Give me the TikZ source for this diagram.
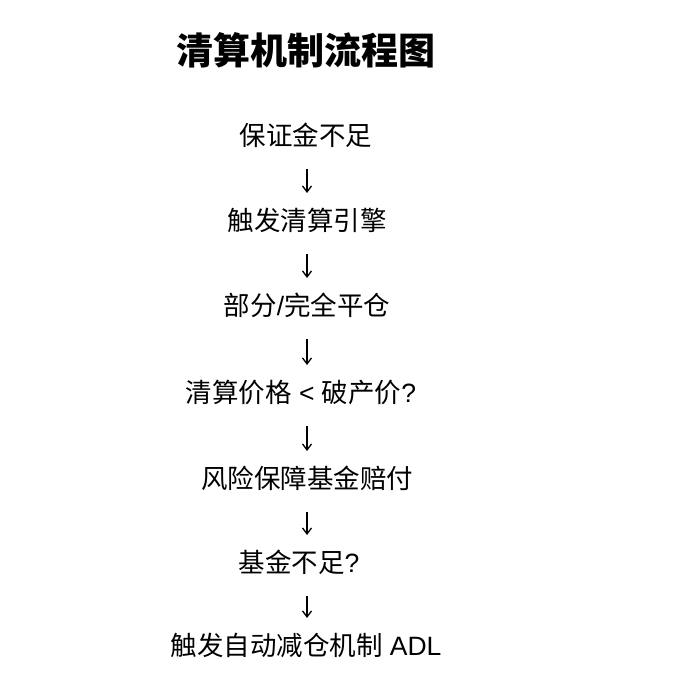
\documentclass[tikz,border=0pt]{standalone}
\usepackage{fontspec}
\setmainfont{Noto Sans CJK SC}
\newfontfamily\latf{Liberation Sans}
\newcommand{\lt}[1]{{\latf #1}}
\usetikzlibrary{arrows.meta}
\tikzset{
  stepnode/.style={inner sep=0pt, font=\fontsize{26.5}{30}\selectfont},
  titlenode/.style={inner sep=0pt, font=\fontsize{37}{42}\selectfont\bfseries},
  flowarrow/.style={line width=1.3pt, -{Straight Barb[length=6pt,width=9pt,line width=1.3pt]}, shorten <=34pt, shorten >=27pt}
}
\begin{document}
\begin{tikzpicture}[x=1pt,y=1pt]
\fill[white] (0,0) rectangle (680,675);
\useasboundingbox (0,0) rectangle (680,675);
\coordinate (axis) at (307,0);
\node[titlenode] (title) at (306,625) {清算机制流程图};
\node[stepnode] (s1) at (306,540) {保证金不足};
\node[stepnode] (s2) at (307,455) {触发清算引擎};
\node[stepnode] (s3) at (307,370) {部分\lt{/}完全平仓};
\node[stepnode] (s4) at (301,283) {清算价格\lt{ < }破产价\lt{?}};
\node[stepnode] (s5) at (307,197) {风险保障基金赔付};
\node[stepnode] (s6) at (299,113) {基金不足\lt{?}};
\node[stepnode] (s7) at (306,30) {触发自动减仓机制\lt{ ADL}};
\foreach \a/\b in {s1/s2,s2/s3,s3/s4,s4/s5,s5/s6,s6/s7}
  \draw[flowarrow] (axis |- \a.center) -- (axis |- \b.center);
\end{tikzpicture}
\end{document}
